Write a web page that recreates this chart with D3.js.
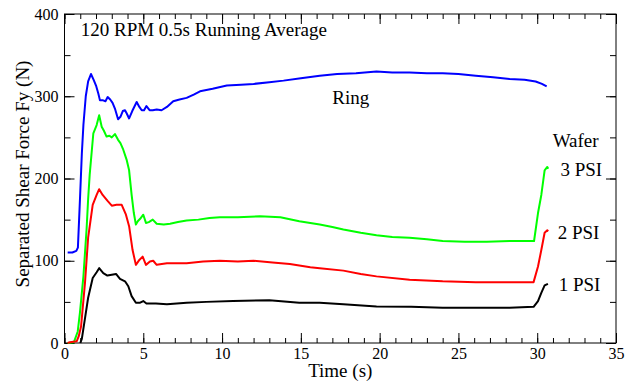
<!DOCTYPE html>
<html>
<head>
<meta charset="utf-8">
<script src="https://cdn.jsdelivr.net/npm/d3@7"></script>
<style>
  body { margin: 0; background: #fff; }
  text { font-family: "Liberation Serif", "Times New Roman", serif; }
</style>
</head>
<body>
<div id="chart-area"></div>
<script>

// data: [time (s), force (N)]
let ring = [[0.2,110],[0.5,110],[0.75,112],[0.85,116],[0.98,174],[1.1,230],[1.2,265],[1.35,300],[1.5,318],[1.68,327],
	[1.85,320],[2.0,313],[2.15,303],[2.25,295],[2.45,295],[2.6,294],[2.74,299],[2.9,296],[3.05,292],[3.2,285],[3.4,272],[3.55,275],
	[3.7,282],[3.84,283],[3.95,279],[4.1,273],[4.3,282],[4.58,293],[4.75,287],[4.9,283],[5.05,283],[5.2,288],[5.4,283],[5.6,283],
	[5.85,284],[6.16,283],[6.5,287],[6.9,294],[7.3,296],[7.75,298],[8.2,302],[8.6,306],[9.4,309],[10.3,313],[11.2,314],[12,315],
	[13,317],[13.9,319],[15,322],[16.2,325],[17.3,327],[18.5,328],[19.8,330],[20.8,329],[21.9,329],[23,328],[24,328],[25,327],
	[26.1,325],[27.2,323],[28.25,321],[29.2,320],[29.9,318],[30.3,315],[30.6,312]];

let psi3 = [[0.2,0],[0.6,1],[0.84,14],[0.98,37],[1.2,81],[1.4,138],[1.5,175],[1.6,205],[1.83,255],[2.04,265],[2.2,277],[2.36,263],
	[2.5,258],[2.67,251],[2.85,252],[3.0,250],[3.2,254],[3.4,247],[3.55,243],[3.73,235],[3.94,223],[4.1,210],[4.26,180],[4.4,158],
	[4.53,144],[4.65,148],[4.8,151],[5.0,156],[5.17,146],[5.35,147],[5.6,150],[5.85,145],[6.3,144],[6.7,145],[7.2,147],[7.75,149],
	[8.5,150],[9.2,152],[9.86,153],[11,153],[12.4,154],[13.7,153],[14.9,148],[15.6,146],[16.2,144],[17.0,141],[17.7,138],[18.8,134],
	[19.8,131],[20.8,129],[21.9,128],[23,126],[24,124],[25.4,123],[26.8,123],[28.25,124],[29.8,124],[30.05,158],[30.26,180],
	[30.47,210],[30.64,214],[30.7,212]];

let psi2 = [[0.2,0],[0.35,1],[0.77,2],[0.9,8],[1.05,20],[1.3,73],[1.5,128],[1.79,168],[2.04,180],[2.2,187],[2.42,180],[2.72,173],
	[3.0,167],[3.3,168],[3.63,168],[3.9,156],[4.1,142],[4.32,113],[4.53,95],[4.75,101],[4.96,105],[5.17,95],[5.42,99],[5.63,100],
	[5.85,95],[6.5,97],[7.75,97],[8.8,99],[9.86,100],[11,99],[12,100],[13.2,98],[14.3,96],[15.6,92],[16.2,91],[17.7,88],[18.8,84],
	[19.8,81],[21.9,77],[24,75],[26.1,74],[28.25,74],[29.77,74],[30.05,93],[30.26,113],[30.47,134],[30.64,137],[30.7,136]];

let psi1 = [[1.0,0],[1.1,5],[1.3,30],[1.5,55],[1.79,79],[2.04,86],[2.2,91],[2.46,85],[2.72,82],[3.0,83],[3.27,84],[3.52,78],
	[3.84,75],[4.05,69],[4.26,57],[4.53,49],[4.8,49],[5.0,51],[5.2,48],[5.8,48],[6.5,47],[7.75,49],[9,50],[10.7,51],[13,52],
	[14.9,49],[16.2,49],[17.7,47],[19.8,44.5],[22,44],[24,43],[26,43],[28.25,43],[29.77,44],[30.05,51],[30.26,61],[30.47,70],[30.68,72]];

let seriesNames = ["Ring", "3 PSI", "2 PSI", "1 PSI"];
let seriesData = [ring, psi3, psi2, psi1];
let seriesColors = ["#0000ff", "#00ff00", "#ff0000", "#000000"];

let xTicks = [0, 5, 10, 15, 20, 25, 30, 35];
let yTicks = [0, 100, 200, 300, 400];

// annotations: [text, time, force]
let notes = [["120 RPM 0.5s Running Average", 1.03, 373.7], ["Ring", 17.0, 290.7], ["Wafer", 30.98, 238.9],
	["3 PSI", 31.47, 203.6], ["2 PSI", 31.3, 126.7], ["1 PSI", 31.36, 62.7]];

let margin = {top: 14, right: 11, bottom: 40, left: 64.5};
let width = 627 - margin.left - margin.right,
	height = 383 - margin.top - margin.bottom;

let svg = d3.select("#chart-area").append("svg")
	.attr("width", 627)
	.attr("height", 383)
	.append("g")
	.attr("transform", "translate(" + margin.left + "," + margin.top + ")");

let x = d3.scaleLinear().domain([0, 35]).range([0, width]);
let y = d3.scaleLinear().domain([0, 400]).range([height, 0]);

// ticks point into the plot on all four sides
function tickGroup(axis, transform, labels) {
	let g = svg.append("g").attr("transform", transform).call(axis);
	g.select(".domain").remove();
	g.selectAll("line").attr("stroke", "#000");
	if (!labels) g.selectAll("text").remove();
	return g;
}

let xMinor = d3.range(0, 36, 1), yMinor = d3.range(0, 401, 50);

tickGroup(d3.axisBottom(x).tickValues(xMinor).tickFormat("").tickSizeInner(-5).tickSizeOuter(0), `translate(0,${height})`);
tickGroup(d3.axisTop(x).tickValues(xMinor).tickFormat("").tickSizeInner(-5).tickSizeOuter(0), "translate(0,0)");
tickGroup(d3.axisLeft(y).tickValues(yMinor).tickFormat("").tickSizeInner(-6).tickSizeOuter(0), "translate(0,0)");
tickGroup(d3.axisRight(y).tickValues(yMinor).tickFormat("").tickSizeInner(-6).tickSizeOuter(0), `translate(${width},0)`);

tickGroup(d3.axisBottom(x).tickValues(xTicks).tickSizeInner(-10).tickSizeOuter(0).tickPadding(5), `translate(0,${height})`, true);
tickGroup(d3.axisTop(x).tickValues(xTicks).tickSizeInner(-10).tickSizeOuter(0), "translate(0,0)");
tickGroup(d3.axisLeft(y).tickValues(yTicks).tickSizeInner(-10).tickSizeOuter(0).tickPadding(6), "translate(0,0)", true);
tickGroup(d3.axisRight(y).tickValues(yTicks).tickSizeInner(-10).tickSizeOuter(0), `translate(${width},0)`);

svg.selectAll(".tick text")
	.attr("font-family", "Liberation Serif")
	.attr("font-size", 16)
	.attr("fill", "#000");

// frame
svg.append("rect")
	.attr("width", width)
	.attr("height", height)
	.attr("fill", "none")
	.attr("stroke", "#000");

let line = d3.line()
	.x(d => x(d[0]))
	.y(d => y(d[1]));

svg.selectAll(".series").data(seriesData)
	.enter().append("path")
	.attr("class", "series")
	.attr("d", line)
	.attr("fill", "none")
	.attr("stroke", (d, i) => seriesColors[i])
	.attr("stroke-width", 2)
	.attr("stroke-linejoin", "round");

svg.selectAll(".note").data(notes)
	.enter().append("text")
	.attr("class", "note")
	.attr("x", d => x(d[1]))
	.attr("y", d => y(d[2]))
	.attr("font-size", 19)
	.text(d => d[0]);

// axis titles
svg.append("text")
	.attr("x", width / 2)
	.attr("y", 377 - margin.top)
	.attr("text-anchor", "middle")
	.attr("font-size", 19)
	.text("Time (s)");

svg.append("text")
	.attr("transform", `translate(${29 - margin.left},${174 - margin.top}) rotate(-90)`)
	.attr("text-anchor", "middle")
	.attr("font-size", 19)
	.text("Separated Shear Force Fy (N)");

</script>
</body>
</html>
